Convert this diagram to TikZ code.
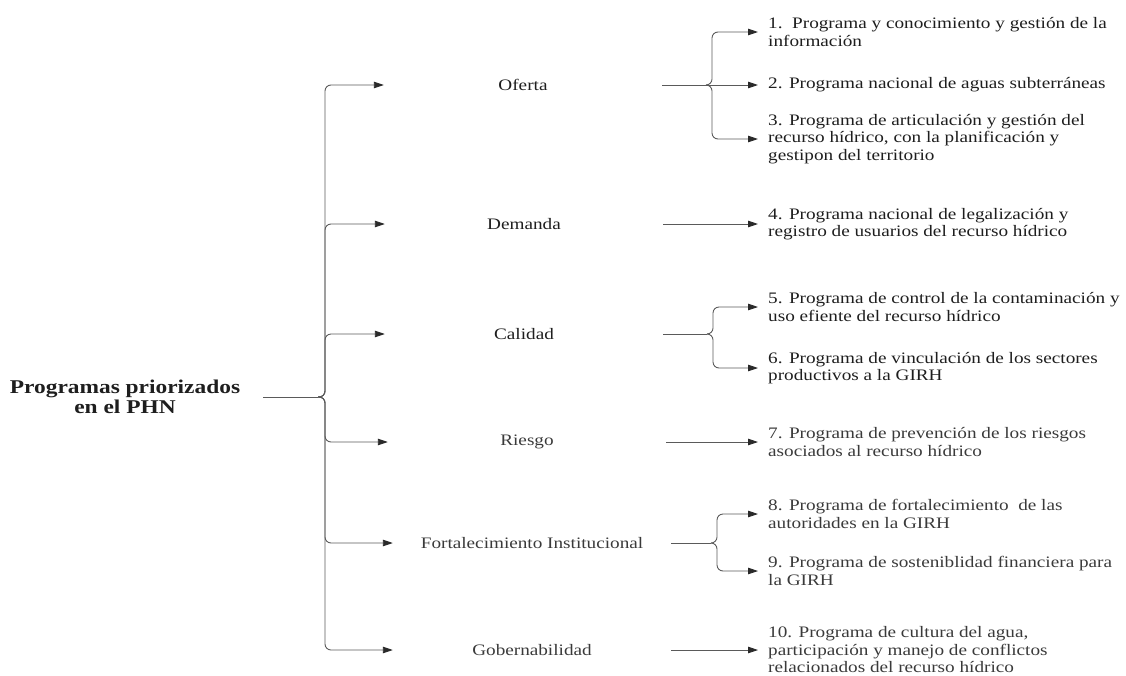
\documentclass[tikz,border=0pt]{standalone}
\usepackage{fontspec}
\setmainfont[FakeStretch=1.2]{Liberation Serif}
\usetikzlibrary{arrows.meta}
\definecolor{ink}{HTML}{1E1E1E}
\definecolor{inksoft}{HTML}{3A3A3A}
\definecolor{wire}{HTML}{5A5A5A}
\definecolor{tipc}{HTML}{2A2A2A}
\begin{document}
\begin{tikzpicture}[x=1pt,y=-1pt,
  link/.style={draw=wire, line width=0.9pt},
  conn/.style={link, rounded corners=6pt, -{Triangle[length=10pt,width=6.5pt,color=tipc]}},
  area/.style={font=\fontsize{16}{17.5}\selectfont, text=ink, minimum width=278pt, inner xsep=0pt},
  prog/.style={font=\fontsize{16}{17.5}\selectfont, text=ink, align=left, anchor=west, inner xsep=10pt, inner ysep=0pt},
]
\useasboundingbox (0,0) rectangle (1126,675);

% root of the tree
\node[font=\bfseries\fontsize{19.5}{20}\selectfont, text=ink, align=center, inner xsep=23pt] (root) at (125,397) {Programas priorizados\\en el PHN};
\coordinate (rc) at (318,397);
\draw[link] (root.east) -- (rc);

% thematic areas
\node[area] (oferta)  at (523,85)  {Oferta};
\node[area] (demanda) at (524,224) {Demanda};
\node[area] (calidad) at (524,334) {Calidad};
\node[area, text=inksoft] (riesgo) at (527,442) {Riesgo};
\node[area, text=inksoft] (fort)   at (532,543) {Fortalecimiento Institucional};
\node[area, text=inksoft] (gob)    at (532,650) {Gobernabilidad};

\foreach \n in {oferta,demanda,calidad,riesgo,fort,gob}
  \draw[conn] (rc) -- ++(7,0) |- (\n.west);

% programmes
\node[prog] (p1)  at (758,32)  {1.\ \ Programa y conocimiento y gestión de la\\información};
\node[prog] (p2)  at (758,85)  {2. Programa nacional de aguas subterráneas};
\node[prog] (p3)  at (758,139) {3. Programa de articulación y gestión del\\recurso hídrico, con la planificación y\\gestipon del territorio};
\node[prog] (p4)  at (758,224) {4. Programa nacional de legalización y\\registro de usuarios del recurso hídrico};
\node[prog] (p5)  at (758,307) {5. Programa de control de la contaminación y\\uso efiente del recurso hídrico};
\node[prog] (p6)  at (758,368) {6. Programa de vinculación de los sectores\\productivos a la GIRH};
\node[prog, text=inksoft] (p7)  at (758,442) {7. Programa de prevención de los riesgos\\asociados al recurso hídrico};
\node[prog, text=inksoft] (p8)  at (758,514) {8. Programa de fortalecimiento\ \ de las\\autoridades en la GIRH};
\node[prog, text=inksoft] (p9)  at (758,571) {9. Programa de sosteniblidad financiera para\\la GIRH};
\node[prog, text=inksoft] (p10) at (758,650) {10. Programa de cultura del agua,\\participación y manejo de conflictos\\relacionados del recurso hídrico};

% Oferta
\coordinate (oc) at (706,85);
\draw[link] (oferta.east) -- (oc);
\draw[conn] (oc) -- ++(6,0) |- (p1.west);
\draw[conn] (oferta.east) -- (p2.west);
\draw[conn] (oc) -- ++(6,0) |- (p3.west);

% Demanda
\draw[conn] (demanda.east) -- (p4.west);

% Calidad
\coordinate (cc) at (707,334);
\draw[link] (calidad.east) -- (cc);
\draw[conn] (cc) -- ++(6,0) |- (p5.west);
\draw[conn] (cc) -- ++(6,0) |- (p6.west);

% Riesgo
\draw[conn] (riesgo.east) -- (p7.west);

% Fortalecimiento Institucional
\coordinate (fc) at (711,543);
\draw[link] (fort.east) -- (fc);
\draw[conn] (fc) -- ++(6,0) |- (p8.west);
\draw[conn] (fc) -- ++(6,0) |- (p9.west);

% Gobernabilidad
\draw[conn] (gob.east) -- (p10.west);
\end{tikzpicture}
\end{document}
